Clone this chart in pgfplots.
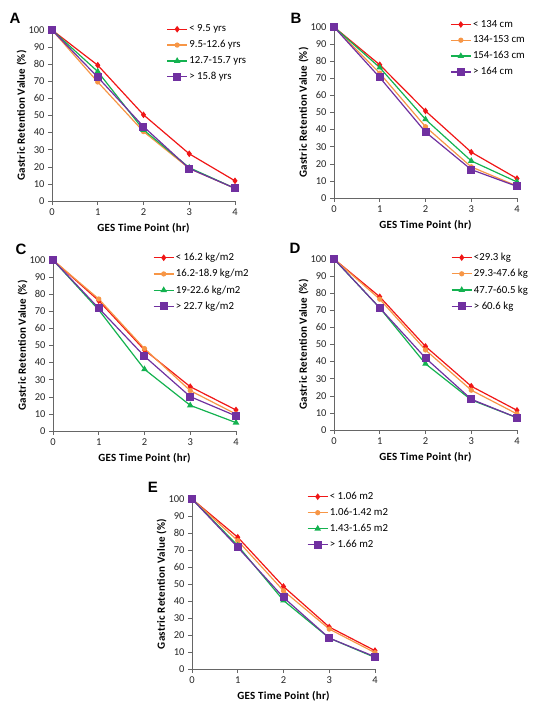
\documentclass[border=0pt]{standalone}
\usepackage{fontspec}
\setmainfont{Carlito}
\newfontfamily\letterfont{Liberation Sans}
\newfontfamily\labelfont[LetterSpace=2.5]{Carlito}
\usepackage{pgfplots}
\pgfplotsset{compat=1.18}
\definecolor{cred}{RGB}{240,22,22}
\definecolor{corange}{RGB}{247,150,70}
\definecolor{cgreen}{RGB}{20,178,80}
\definecolor{cpurple}{RGB}{112,48,160}
\pgfplotsset{
  panel/.style={
    scale only axis, width=183pt, height=171pt,
    xmin=0, xmax=4, ymin=0, ymax=100,
    axis lines*=left, xtick={0,1,2,3,4}, ytick={0,10,...,100},
    tick align=outside, major tick length=4pt,
    axis line style={black!60, line width=0.6pt},
    tick style={black!60, line width=0.6pt},
    tick label style={font=\fontsize{10.5}{12}\selectfont, text=black!85},
    /pgf/number format/assume math mode=true,
    xlabel={GES Time Point (hr)},
    ylabel={Gastric Retention Value (\%)},
    label style={font=\labelfont\bfseries\fontsize{11}{13}\selectfont},
    xlabel style={at={(axis description cs:0.5,-0.16)}, anchor=center},
    ylabel style={at={(axis description cs:-0.166,0.5)}, anchor=center},
    legend style={draw=none, fill=none, font=\fontsize{10.8}{12}\selectfont,
      anchor=north west, inner sep=0pt, row sep=4pt,
      nodes={inner sep=1.6pt}},
    legend cell align=left,
    legend image code/.code={\draw[mark repeat=2,mark phase=2] plot coordinates {(0pt,0pt)(10pt,0pt)(20pt,0pt)};},
    clip=false,
  },
  s1/.style={color=cred, line width=1.2pt, mark=diamond*, mark size=2.4pt, mark options={solid}},
  s2/.style={color=corange, line width=1.2pt, mark=*, mark size=2pt, mark options={solid}},
  s3/.style={color=cgreen, line width=1.2pt, mark=triangle*, mark size=2.6pt, mark options={solid}},
  s4/.style={color=cpurple, line width=1.2pt, mark=square*, mark size=3.4pt, mark options={solid}},
}
\begin{document}
\begin{tikzpicture}[x=1pt,y=1pt]
\path[use as bounding box] (0,0) rectangle (538,-718);
% Panel A
\begin{axis}[panel, at={(52pt,-201pt)}, anchor=south west,
  legend style={at={(0.625,1.04)}}]
\addplot[s1] coordinates {(0,100)(1,79.4)(2,50.4)(3,27.6)(4,11.8)};
\addplot[s2] coordinates {(0,100)(1,69.6)(2,40.6)(3,19.0)(4,7.4)};
\addplot[s3] coordinates {(0,100)(1,75.7)(2,41.6)(3,19.5)(4,7.4)};
\addplot[s4] coordinates {(0,100)(1,72.4)(2,43.5)(3,19.0)(4,7.4)};
\legend{< 9.5 yrs, 9.5-12.6 yrs, 12.7-15.7 yrs, > 15.8 yrs}
\end{axis}
% Panel B
\begin{axis}[panel, at={(334pt,-198pt)}, anchor=south west,
  legend style={at={(0.634,1.05)}}]
\addplot[s1] coordinates {(0,100)(1,77.9)(2,50.9)(3,26.8)(4,11.4)};
\addplot[s2] coordinates {(0,100)(1,73.0)(2,41.7)(3,18.2)(4,7.0)};
\addplot[s3] coordinates {(0,100)(1,76.3)(2,46.0)(3,21.7)(4,9.4)};
\addplot[s4] coordinates {(0,100)(1,70.5)(2,38.6)(3,16.6)(4,6.8)};
\legend{< 134 cm, 134-153 cm, 154-163 cm, > 164 cm}
\end{axis}
% Panel C
\begin{axis}[panel, at={(53pt,-431pt)}, anchor=south west,
  legend style={at={(0.546,1.05)}}]
\addplot[s1] coordinates {(0,100)(1,76.2)(2,47.4)(3,25.9)(4,12.3)};
\addplot[s2] coordinates {(0,100)(1,77.2)(2,48.2)(3,23.6)(4,9.9)};
\addplot[s3] coordinates {(0,100)(1,70.8)(2,36.1)(3,15.0)(4,4.9)};
\addplot[s4] coordinates {(0,100)(1,71.8)(2,43.7)(3,20.1)(4,8.8)};
\legend{< 16.2 kg/m2, 16.2-18.9 kg/m2, 19-22.6 kg/m2, > 22.7 kg/m2}
\end{axis}
% Panel D
\begin{axis}[panel, at={(334pt,-430pt)}, anchor=south west,
  legend style={at={(0.639,1.045)}}]
\addplot[s1] coordinates {(0,100)(1,77.9)(2,48.9)(3,25.6)(4,11.5)};
\addplot[s2] coordinates {(0,100)(1,76.5)(2,46.8)(3,23.3)(4,9.4)};
\addplot[s3] coordinates {(0,100)(1,71.4)(2,38.7)(3,17.6)(4,7.2)};
\addplot[s4] coordinates {(0,100)(1,71.4)(2,42.1)(3,18.0)(4,7.2)};
\legend{<29.3 kg, 29.3-47.6 kg, 47.7-60.5 kg, > 60.6 kg}
\end{axis}
% Panel E
\begin{axis}[panel, at={(192pt,-669pt)}, anchor=south west, height=170pt,
  legend style={at={(0.628,1.05)}}]
\addplot[s1] coordinates {(0,100)(1,77.5)(2,48.5)(3,24.7)(4,10.8)};
\addplot[s2] coordinates {(0,100)(1,75.5)(2,46.0)(3,23.5)(4,9.6)};
\addplot[s3] coordinates {(0,100)(1,72.6)(2,40.3)(3,18.2)(4,6.8)};
\addplot[s4] coordinates {(0,100)(1,71.6)(2,42.1)(3,18.2)(4,7.2)};
\legend{< 1.06 m2, 1.06-1.42 m2, 1.43-1.65 m2, > 1.66 m2}
\end{axis}
\begin{scope}[every node/.style={font=\letterfont\bfseries\fontsize{15}{18}\selectfont, inner sep=0pt}]
\node at (15,-18) {A};
\node at (296,-18) {B};
\node at (21,-249) {C};
\node at (295,-248) {D};
\node at (153,-487) {E};
\end{scope}
\end{tikzpicture}
\end{document}
